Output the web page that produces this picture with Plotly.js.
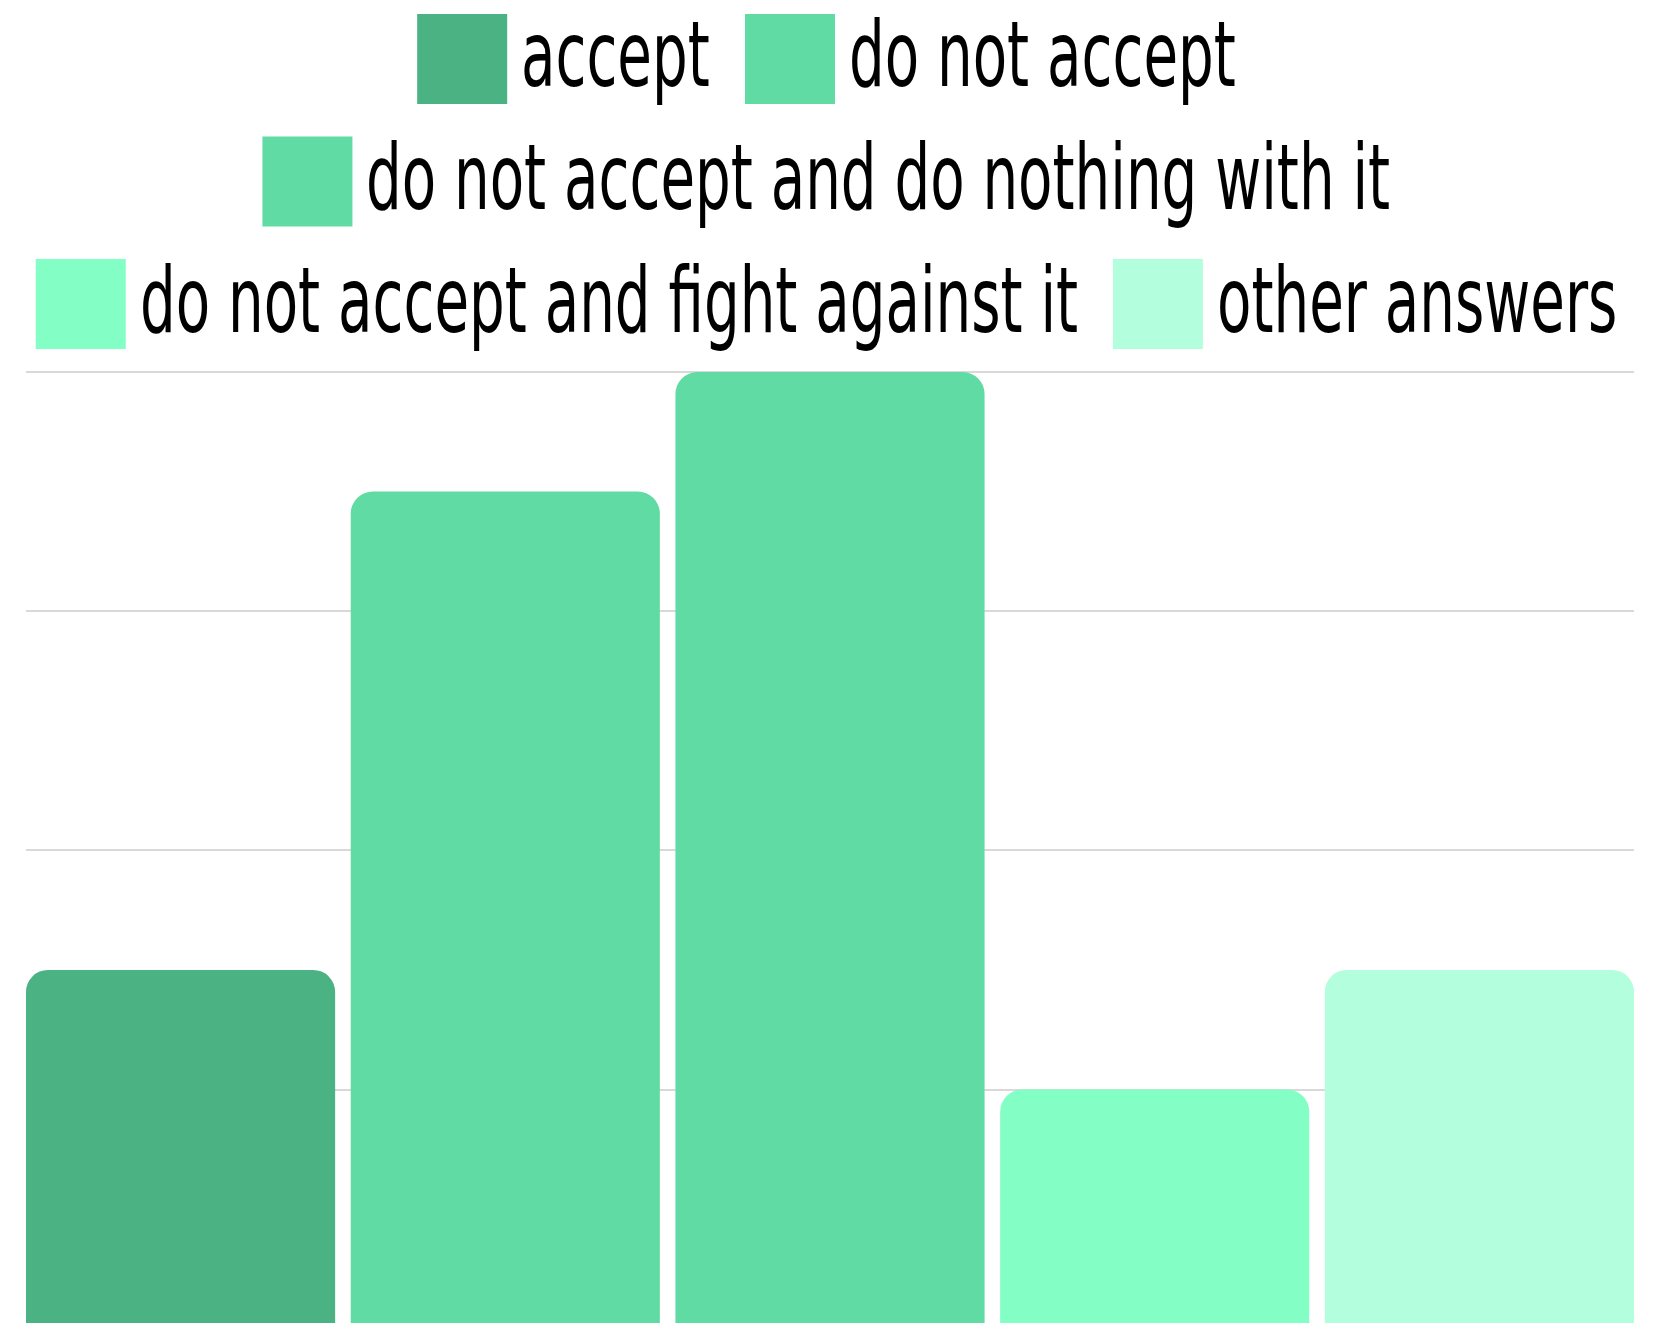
<!DOCTYPE html>
<html><head><meta charset="utf-8">
<script src="https://cdn.plot.ly/plotly-3.0.1.min.js"></script>
<style>html,body{margin:0;padding:0;background:#fff;}#chart{width:1658px;height:1323px;}</style>
</head><body><div id="chart"></div>
<script>
const categories = ["accept", "do not accept", "do not accept and do nothing with it", "do not accept and fight against it", "other answers"];
const counts = [3, 7, 8, 2, 3];
const colors = ["#4bb383", "#60dba4", "#60dba4", "#83fec5", "#b3fedd"];
const yTicks = [0, 2, 4, 6, 8];
const legendRows = [[0, 1], [2], [3, 4]];

const W = 1658, H = 1323;
const margin = {l: 26, r: 24, t: 360, b: 0};
const plotH = H - margin.t - margin.b;
const plotW = W - margin.l - margin.r;
function pyToPaper(py) { return (H - margin.b - py) / plotH; }
function pxToPaper(px) { return (px - margin.l) / plotW; }

const FONT = "DejaVu Sans Condensed";
const FS = 90;
const SX = 0.695;   // horizontal condensing of legend labels

// measure label widths with an SVG text element (same engine as the chart)
const NS = 'http://www.w3.org/2000/svg';
const msvg = document.createElementNS(NS, 'svg');
msvg.setAttribute('width', '10'); msvg.setAttribute('height', '10');
msvg.style.position = 'absolute'; msvg.style.left = '-5000px';
document.body.appendChild(msvg);
function measure(s) {
  const t = document.createElementNS(NS, 'text');
  t.setAttribute('style', "font-family: '" + FONT + "'; font-size: " + FS + "px;");
  t.textContent = s;
  msvg.appendChild(t);
  const w = t.getComputedTextLength();
  msvg.removeChild(t);
  return w;
}

const SQ = 90, SQGAP = 13, ITEMGAP = 36, CENTER = 826, ROW0 = 14, ROWSTEP = 122.5, TEXTSHIFT = -4;
const shapes = [], annotations = [];
legendRows.forEach((row, r) => {
  const widths = row.map(i => measure(categories[i]) * SX);
  const total = widths.reduce((a, w) => a + SQ + SQGAP + w, 0) + ITEMGAP * (row.length - 1);
  let x = CENTER - total / 2;
  const top = ROW0 + r * ROWSTEP;
  row.forEach((i, k) => {
    shapes.push({type: 'rect', xref: 'paper', yref: 'paper',
      x0: pxToPaper(x), x1: pxToPaper(x + SQ), y0: pyToPaper(top + SQ), y1: pyToPaper(top),
      fillcolor: colors[i], line: {width: 0}, layer: 'above'});
    annotations.push({xref: 'paper', yref: 'paper', x: pxToPaper(x + SQ + SQGAP), y: pyToPaper(top + SQ / 2 + TEXTSHIFT),
      xanchor: 'left', yanchor: 'middle', showarrow: false, borderpad: 0, text: categories[i],
      font: {family: FONT, size: FS, color: '#000000'}});
    x += SQ + SQGAP + widths[k] + ITEMGAP;
  });
});

const traces = categories.map((c, i) => ({
  type: 'bar', x: [c], y: [counts[i]], name: c,
  marker: {color: colors[i], cornerradius: 22, line: {width: 0}},
  hoverinfo: 'x+y'
}));

const layout = {
  width: W, height: H,
  margin: margin,
  paper_bgcolor: '#ffffff', plot_bgcolor: '#ffffff',
  barmode: 'overlay', bargap: 0.048,
  showlegend: false,
  xaxis: {type: 'category', categoryarray: categories, range: [-0.476, 4.476],
    showticklabels: false, showgrid: false, zeroline: false, showline: false, ticks: ''},
  yaxis: {range: [0.048, 8.1], tickvals: yTicks, showticklabels: false,
    showgrid: true, gridcolor: '#d9d9d9', gridwidth: 2, zeroline: false, showline: false, ticks: ''},
  shapes: shapes,
  annotations: annotations
};

Plotly.newPlot('chart', traces, layout, {displayModeBar: false, staticPlot: true}).then(gd => {
  gd.querySelectorAll('.annotation-text').forEach(t => {
    const bb = t.getBBox();
    t.setAttribute('transform', 'translate(' + bb.x + ',0) scale(' + SX + ',1) translate(' + (-bb.x) + ',0)');
  });
});
</script>
</body></html>
